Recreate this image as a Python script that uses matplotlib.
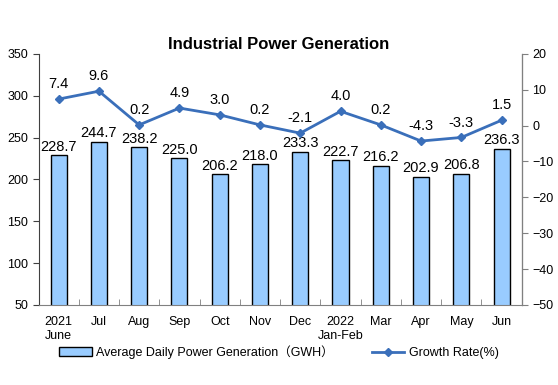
import matplotlib.pyplot as plt
import numpy as np

plt.rcParams['font.family'] = ['Liberation Sans', 'Noto Sans CJK SC', 'DejaVu Sans']

months = ['2021\nJune', 'Jul', 'Aug', 'Sep', 'Oct', 'Nov', 'Dec',
          '2022\nJan-Feb', 'Mar', 'Apr', 'May', 'Jun']
power = [228.7, 244.7, 238.2, 225.0, 206.2, 218.0, 233.3, 222.7, 216.2, 202.9, 206.8, 236.3]
growth = [7.4, 9.6, 0.2, 4.9, 3.0, 0.2, -2.1, 4.0, 0.2, -4.3, -3.3, 1.5]

fig = plt.figure(figsize=(5.58, 3.85), dpi=100)
ax = fig.add_axes([0.069, 0.208, 0.866, 0.652])
ax2 = ax.twinx()

x = np.arange(len(months))
bars = ax.bar(x, power, width=0.4, color='#99CCFF', edgecolor='black', linewidth=1,
              label='Average Daily Power Generation（GWH）')
for xi, v in zip(x, power):
    ax.text(xi, v + 2, '%.1f' % v, ha='center', va='bottom', fontsize=10.5)

line, = ax2.plot(x, growth, color='#3A6FBA', linewidth=2, marker='D', markersize=4.5,
                 label='Growth Rate(%)')
for xi, v in zip(x, growth):
    ax2.text(xi, v + 2.2, '%.1f' % v, ha='center', va='bottom', fontsize=10.5)

ax.set_xlim(-0.5, len(months) - 0.5)
ax.set_ylim(50, 350)
ax.set_yticks(range(50, 351, 50))
ax2.set_ylim(-50, 20)
ax2.set_yticks(range(-50, 21, 10))

ax.set_xticks(x)
ax.set_xticklabels(months, fontsize=9)
ax.set_xticks(np.arange(0.5, len(months) - 0.5, 1), minor=True)
ax.tick_params(axis='x', which='major', length=0, pad=8)
ax.tick_params(axis='x', which='minor', direction='in', length=4, color='#808080')
ax.tick_params(axis='y', labelsize=9, direction='out', length=4, color='#404040')
ax2.tick_params(axis='y', labelsize=9, direction='out', length=4, color='#808080')

for a in (ax, ax2):
    a.spines['top'].set_visible(False)
ax.spines['left'].set_color('#404040')
ax.spines['bottom'].set_color('#808080')
ax2.spines['right'].set_color('#808080')
ax2.spines['left'].set_visible(False)
ax2.spines['bottom'].set_visible(False)

fig.text(0.50, 0.885, 'Industrial Power Generation', ha='center', va='center',
         fontsize=12, fontweight='bold')

fig.legend(handles=[bars, line], loc='center', bbox_to_anchor=(0.5, 0.085), ncol=2,
           frameon=False, fontsize=9, handlelength=2.6, columnspacing=3, handletextpad=0.4)

fig.savefig('out.png', dpi=100)
